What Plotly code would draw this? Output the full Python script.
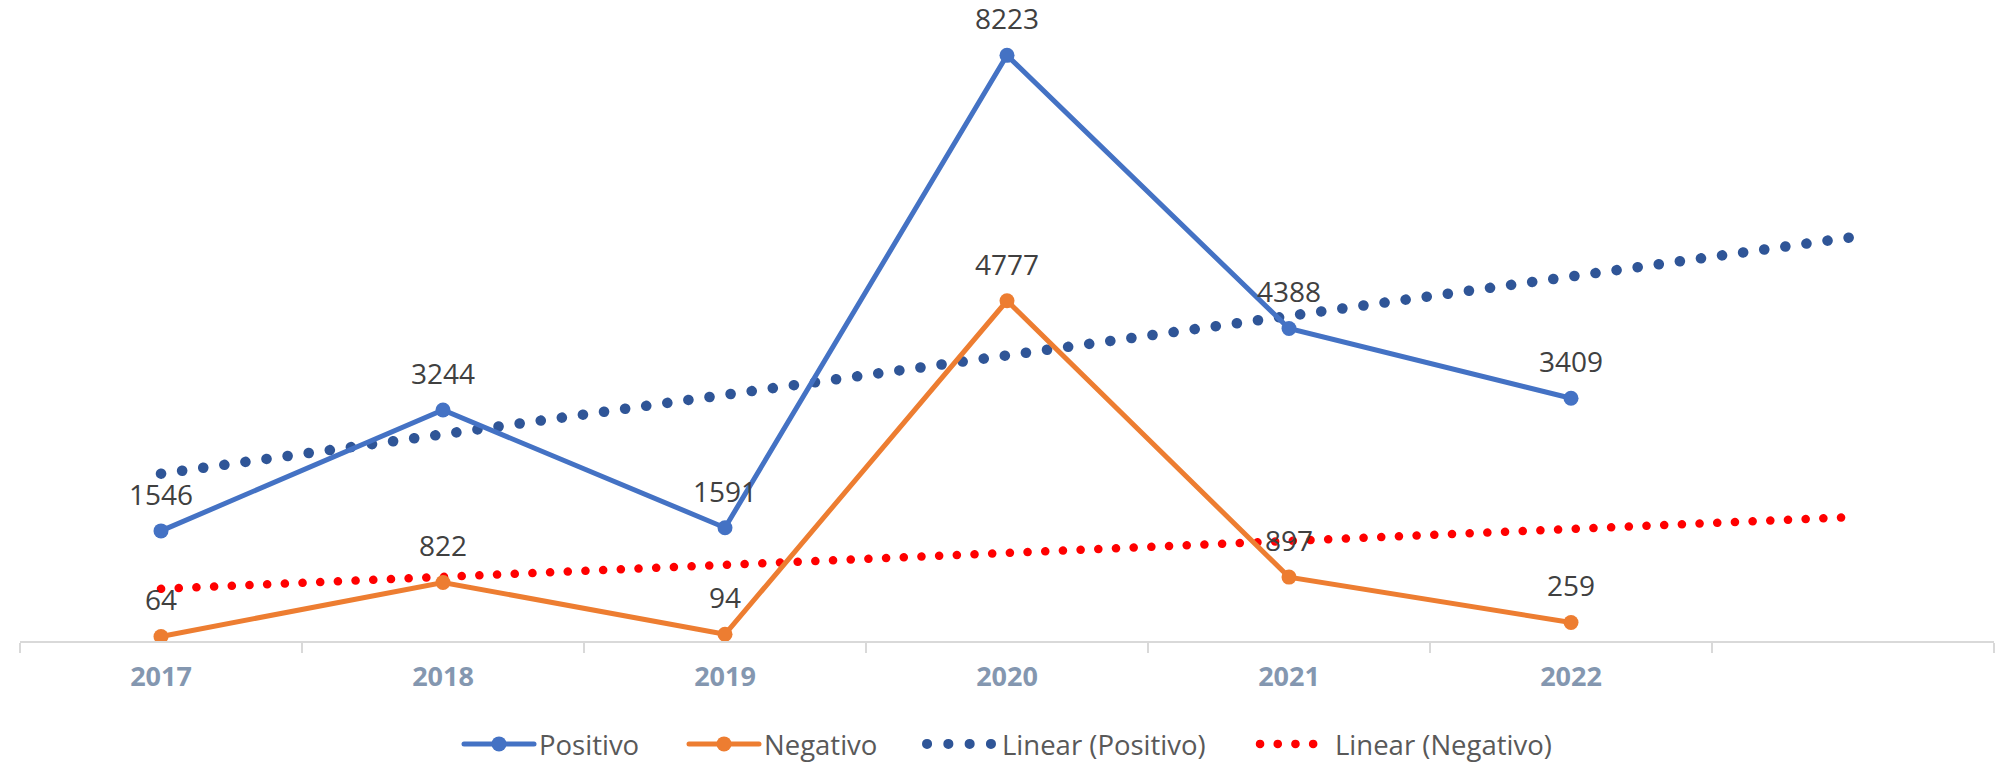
import numpy as np
import plotly.graph_objects as go

years = ["2017", "2018", "2019", "2020", "2021", "2022"]
forecast_cat = " "
positivo = [1546, 3244, 1591, 8223, 4388, 3409]
negativo = [64, 822, 94, 4777, 897, 259]

BLUE = "#4472C4"
ORANGE = "#ED7D31"
TREND_BLUE = "#2F5597"
TREND_RED = "#FF0000"
LABEL_COLOR = "#404040"
W, H = 2012, 763

cats = years + [forecast_cat]
xi = np.arange(1, len(years) + 1)
xi_ext = np.arange(1, len(cats) + 1)


def linear_trend(vals):
    m, b = np.polyfit(xi, np.array(vals, dtype=float), 1)
    return list(m * xi_ext + b)


fig = go.Figure()

fig.add_trace(go.Scatter(
    x=cats, y=linear_trend(positivo), mode="lines", name="Linear (Positivo)",
    line=dict(color=TREND_BLUE, width=10.5, dash="0.1px,21.2px"),
    legend="legend3", hoverinfo="skip",
))
fig.add_trace(go.Scatter(
    x=cats, y=linear_trend(negativo), mode="lines", name="Linear (Negativo)",
    line=dict(color=TREND_RED, width=8.5, dash="0.1px,17.6px"),
    legend="legend4", hoverinfo="skip",
))
fig.add_trace(go.Scatter(
    x=years, y=positivo, mode="lines+markers", name="Positivo",
    line=dict(color=BLUE, width=5), marker=dict(color=BLUE, size=15),
    legend="legend",
))
fig.add_trace(go.Scatter(
    x=years, y=negativo, mode="lines+markers", name="Negativo",
    line=dict(color=ORANGE, width=5), marker=dict(color=ORANGE, size=15),
    legend="legend2",
))

# data labels (drawn above the series, offset by an invisible marker)
for series in (positivo, negativo):
    fig.add_trace(go.Scatter(
        x=years, y=series, mode="markers+text",
        marker=dict(size=29, color="rgba(0,0,0,0)"),
        text=[str(v) for v in series], textposition="top center",
        textfont=dict(family="Open Sans", size=28, color=LABEL_COLOR),
        cliponaxis=False, showlegend=False, hoverinfo="skip",
    ))


def legend_at(px):
    return dict(
        orientation="h", xref="container", yref="container",
        x=px / W, xanchor="left", y=1 - 744 / H, yanchor="middle",
        font=dict(family="Open Sans", size=27.5, color="#595959"),
        itemwidth=70, bgcolor="rgba(0,0,0,0)",
    )


fig.update_layout(
    width=W, height=H,
    margin=dict(l=20, r=18, t=0, b=122),
    paper_bgcolor="white", plot_bgcolor="white",
    font=dict(family="Open Sans", color="#595959"),
    showlegend=True,
    legend=legend_at(459),
    legend2=legend_at(684),
    legend3=legend_at(922),
    legend4=legend_at(1255),
    xaxis=dict(
        type="category", categoryorder="array", categoryarray=cats,
        range=[-0.5, len(cats) - 0.5],
        showline=True, linecolor="#D9D9D9", linewidth=2,
        ticks="outside", ticklen=10, tickcolor="#D9D9D9", tickwidth=2,
        tickson="boundaries", showgrid=False, zeroline=False,
        tickfont=dict(family="Open Sans", size=27, color="#8497B0", weight="bold"),
        ticklabelstandoff=11,
    ),
    yaxis=dict(
        range=[0, 9000], visible=False, showgrid=False, zeroline=False,
    ),
)

post_script = """
var s = document.createElement('style');
s.innerHTML = 'body{margin:0 !important;} .js-line, .legendlines path {stroke-linecap: round !important;}';
document.head.appendChild(s);
"""

fig.write_html("out.html", post_script=post_script, config={"displayModeBar": False})
